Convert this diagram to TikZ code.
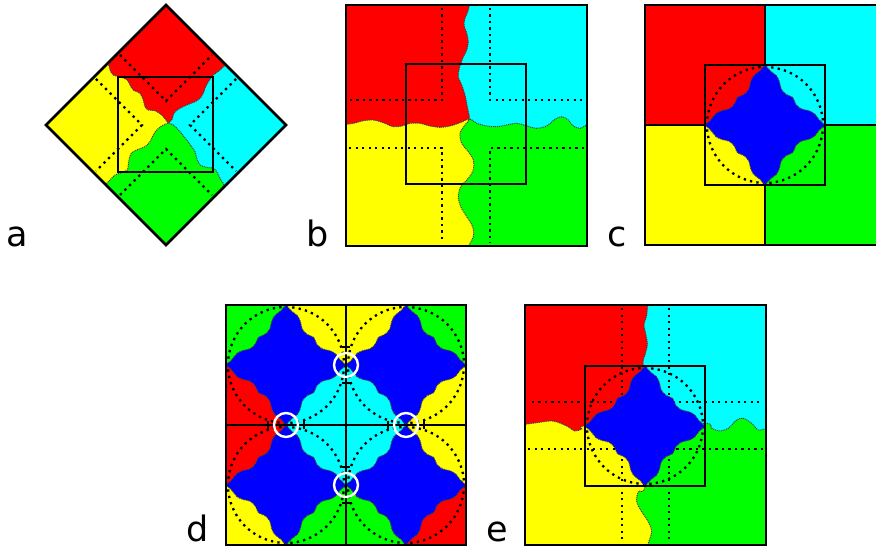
\documentclass[tikz,border=0pt]{standalone}
\usepackage{fontspec}
\setmainfont{DejaVu Sans}
\definecolor{cR}{RGB}{255,0,0}
\definecolor{cC}{RGB}{0,255,255}
\definecolor{cY}{RGB}{255,255,0}
\definecolor{cG}{RGB}{0,255,0}
\definecolor{cB}{RGB}{0,0,255}
\tikzset{
 frame/.style={line width=2.6pt, draw=black},
 dotl/.style={line width=2.3pt, dash pattern=on 2.3pt off 4.2pt, draw=black},
 bord/.style={line width=1pt, dash pattern=on 1pt off 0.9pt, draw=black!75},
 lab/.style={font=\fontsize{35}{40}\selectfont, anchor=base, inner sep=0pt, text depth=0pt},
 hole/.style={draw=white, line width=2.4pt},
 tick/.style={line width=1.6pt, draw=black}
}
\newcommand{\BlueStar}[2]{%
\begin{scope}[shift={(#1,#2)},scale=60]
\path[fill=cB, bord] plot[smooth,tension=0.55] coordinates{(0,-1)(0.09,-0.9)(0.19,-0.82)(0.24,-0.72)(0.27,-0.6)(0.35,-0.51)(0.46,-0.46)(0.51,-0.35)(0.6,-0.27)(0.72,-0.24)(0.82,-0.19)(0.9,-0.09)(1,0)}
 -- plot[smooth,tension=0.55] coordinates{(1,0)(0.9,0.09)(0.82,0.19)(0.72,0.24)(0.6,0.27)(0.51,0.35)(0.46,0.46)(0.35,0.51)(0.27,0.6)(0.24,0.72)(0.19,0.82)(0.09,0.9)(0,1)}
 -- plot[smooth,tension=0.55] coordinates{(0,1)(-0.09,0.9)(-0.19,0.82)(-0.24,0.72)(-0.27,0.6)(-0.35,0.51)(-0.46,0.46)(-0.51,0.35)(-0.6,0.27)(-0.72,0.24)(-0.82,0.19)(-0.9,0.09)(-1,0)}
 -- plot[smooth,tension=0.55] coordinates{(-1,0)(-0.9,-0.09)(-0.82,-0.19)(-0.72,-0.24)(-0.6,-0.27)(-0.51,-0.35)(-0.46,-0.46)(-0.35,-0.51)(-0.27,-0.6)(-0.24,-0.72)(-0.19,-0.82)(-0.09,-0.9)(0,-1)}
 -- cycle;
\end{scope}}
\begin{document}
\begin{tikzpicture}[x=1pt,y=-1pt]
\useasboundingbox (0,0) rectangle (876,548);
\fill[white] (0,0) rectangle (876,548);

% ---------------- panel a ----------------
\begin{scope}
\clip (166,5) -- (286,125) -- (166,245) -- (46,125) -- cycle;
\fill[cG] (40,0) rectangle (300,250);
\fill[cY] plot[smooth] coordinates {(227,63)(220,70)(213.3,75)(208.3,81.7)(205,88.3)(203.3,93.3)(200,98.3)(195,101.7)(186.7,105)(180,108.3)(175,111.7)(173.3,115)(171.7,120)(168,123)(161.7,126)(156.7,130)(153.3,135)(150,141.7)(145,146.7)(138.3,149.3)(131.7,152.7)(129.3,158.3)(128.3,165)(127.3,170)(121.7,172.7)(115,175)(110,180)(104,186)(100,190)} -- (20,125) -- (166,-20) -- cycle;
\fill[cC] plot[smooth] coordinates {(104,59)(108.3,63.3)(110,70)(113.3,75)(121.7,77.3)(127.3,80)(130,85)(133.3,90)(140,93.3)(143.3,100)(145,106.7)(148.3,110)(155,110.7)(161.7,115)(166,120)(168,123)(173.3,125)(180,131.7)(186.7,140)(191.7,146.7)(195,151.7)(196.7,158.3)(200,165)(206.7,167.3)(213.3,168.3)(216.7,171.7)(220,178.3)(225,186)(229,190)} -- (310,125) -- (166,-20) -- cycle;
\begin{scope}
\clip plot[smooth] coordinates {(104,59)(108.3,63.3)(110,70)(113.3,75)(121.7,77.3)(127.3,80)(130,85)(133.3,90)(140,93.3)(143.3,100)(145,106.7)(148.3,110)(155,110.7)(161.7,115)(166,120)(168,123)(173.3,125)(180,131.7)(186.7,140)(191.7,146.7)(195,151.7)(196.7,158.3)(200,165)(206.7,167.3)(213.3,168.3)(216.7,171.7)(220,178.3)(225,186)(229,190)} -- (310,125) -- (166,-20) -- cycle;
\fill[cR] plot[smooth] coordinates {(227,63)(220,70)(213.3,75)(208.3,81.7)(205,88.3)(203.3,93.3)(200,98.3)(195,101.7)(186.7,105)(180,108.3)(175,111.7)(173.3,115)(171.7,120)(168,123)(161.7,126)(156.7,130)(153.3,135)(150,141.7)(145,146.7)(138.3,149.3)(131.7,152.7)(129.3,158.3)(128.3,165)(127.3,170)(121.7,172.7)(115,175)(110,180)(104,186)(100,190)} -- (20,125) -- (166,-20) -- cycle;
\end{scope}
\draw[bord] plot[smooth] coordinates {(104,59)(108.3,63.3)(110,70)(113.3,75)(121.7,77.3)(127.3,80)(130,85)(133.3,90)(140,93.3)(143.3,100)(145,106.7)(148.3,110)(155,110.7)(161.7,115)(166,120)(168,123)(173.3,125)(180,131.7)(186.7,140)(191.7,146.7)(195,151.7)(196.7,158.3)(200,165)(206.7,167.3)(213.3,168.3)(216.7,171.7)(220,178.3)(225,186)(229,190)};
\draw[bord] plot[smooth] coordinates {(227,63)(220,70)(213.3,75)(208.3,81.7)(205,88.3)(203.3,93.3)(200,98.3)(195,101.7)(186.7,105)(180,108.3)(175,111.7)(173.3,115)(171.7,120)(168,123)(161.7,126)(156.7,130)(153.3,135)(150,141.7)(145,146.7)(138.3,149.3)(131.7,152.7)(129.3,158.3)(128.3,165)(127.3,170)(121.7,172.7)(115,175)(110,180)(104,186)(100,190)};
\draw[dotl] (120,55) -- (166,101) -- (212,55);
\draw[dotl] (96,79) -- (142,125) -- (96,171);
\draw[dotl] (236,79) -- (190,125) -- (236,171);
\draw[dotl] (120,195) -- (166,149) -- (212,195);
\end{scope}
\draw[frame] (118,77) rectangle (213,172);
\draw[frame, line join=miter] (166,5) -- (286,125) -- (166,245) -- (46,125) -- cycle;

% ---------------- panel b ----------------
\begin{scope}
\clip (346,5) rectangle (587,246);
\fill[cG] (340,0) rectangle (600,250);
\fill[cY] plot[smooth] coordinates {(470,0)(468.3,10)(465,18.3)(464,25)(466.7,33.3)(468.3,41.7)(466.7,50)(462.7,58.3)(459.3,68.3)(458.3,76.7)(461.7,85)(465,95)(466.7,103.3)(468.3,111.7)(469.5,119)(465,125)(460,133.3)(461.7,143.3)(468.3,151.7)(473.3,160)(473.3,170)(468.3,178.3)(460.7,186.7)(458.3,196.7)(460.7,206.7)(466.7,216.7)(472.7,226.7)(473.3,236.7)(468.3,246.7)(467,252)} -- (330,252) -- (330,0) -- cycle;
\fill[cC] plot[smooth] coordinates {(341,125)(353.3,123.3)(363.3,120.7)(373.3,120)(383.3,122.7)(393.3,126.7)(401.7,126)(410,123.3)(420,123.3)(430,126)(440,127.3)(450,126)(460,122.7)(469.5,119)(476.7,123.3)(486.7,126)(496.7,126.7)(506.7,125)(516.7,123.3)(526.7,126)(536.7,128.3)(546.7,126)(555,119.3)(561.7,116.7)(568.3,120)(573.3,126)(580,128.3)(586.7,125)(592,124)} -- (600,0) -- (340,0) -- cycle;
\begin{scope}
\clip plot[smooth] coordinates {(341,125)(353.3,123.3)(363.3,120.7)(373.3,120)(383.3,122.7)(393.3,126.7)(401.7,126)(410,123.3)(420,123.3)(430,126)(440,127.3)(450,126)(460,122.7)(469.5,119)(476.7,123.3)(486.7,126)(496.7,126.7)(506.7,125)(516.7,123.3)(526.7,126)(536.7,128.3)(546.7,126)(555,119.3)(561.7,116.7)(568.3,120)(573.3,126)(580,128.3)(586.7,125)(592,124)} -- (600,0) -- (340,0) -- cycle;
\fill[cR] plot[smooth] coordinates {(470,0)(468.3,10)(465,18.3)(464,25)(466.7,33.3)(468.3,41.7)(466.7,50)(462.7,58.3)(459.3,68.3)(458.3,76.7)(461.7,85)(465,95)(466.7,103.3)(468.3,111.7)(469.5,119)(465,125)(460,133.3)(461.7,143.3)(468.3,151.7)(473.3,160)(473.3,170)(468.3,178.3)(460.7,186.7)(458.3,196.7)(460.7,206.7)(466.7,216.7)(472.7,226.7)(473.3,236.7)(468.3,246.7)(467,252)} -- (330,252) -- (330,0) -- cycle;
\end{scope}
\draw[bord] plot[smooth] coordinates {(470,0)(468.3,10)(465,18.3)(464,25)(466.7,33.3)(468.3,41.7)(466.7,50)(462.7,58.3)(459.3,68.3)(458.3,76.7)(461.7,85)(465,95)(466.7,103.3)(468.3,111.7)(469.5,119)(465,125)(460,133.3)(461.7,143.3)(468.3,151.7)(473.3,160)(473.3,170)(468.3,178.3)(460.7,186.7)(458.3,196.7)(460.7,206.7)(466.7,216.7)(472.7,226.7)(473.3,236.7)(468.3,246.7)(467,252)};
\draw[bord] plot[smooth] coordinates {(341,125)(353.3,123.3)(363.3,120.7)(373.3,120)(383.3,122.7)(393.3,126.7)(401.7,126)(410,123.3)(420,123.3)(430,126)(440,127.3)(450,126)(460,122.7)(469.5,119)(476.7,123.3)(486.7,126)(496.7,126.7)(506.7,125)(516.7,123.3)(526.7,126)(536.7,128.3)(546.7,126)(555,119.3)(561.7,116.7)(568.3,120)(573.3,126)(580,128.3)(586.7,125)(592,124)};
\draw[dotl] (442,8) -- (442,100) -- (349,100);
\draw[dotl] (490,8) -- (490,100) -- (584,100);
\draw[dotl] (349,148) -- (442,148) -- (442,243);
\draw[dotl] (584,148) -- (490,148) -- (490,243);
\end{scope}
\draw[frame] (406,64) rectangle (526,184);
\draw[frame] (346,5) rectangle (587,246);

% ---------------- panel c ----------------
\begin{scope}
\clip (640,0) rectangle (876,250);
\fill[cR] (645,5) rectangle (765,125);
\fill[cC] (765,5) rectangle (885,125);
\fill[cY] (645,125) rectangle (765,245);
\fill[cG] (765,125) rectangle (885,245);
\draw[dotl] (765,125) circle[radius=58];
\draw[frame] (765,5) -- (765,245);
\draw[frame] (645,125) -- (885,125);
\BlueStar{765}{125}
\draw[frame] (705,65) rectangle (825,185);
\draw[frame] (645,5) rectangle (885,245);
\end{scope}

% ---------------- panel d ----------------
\fill[cG] (226,305) rectangle (286,365);
\fill[cY] (286,305) rectangle (406,365);
\fill[cG] (406,305) rectangle (466,365);
\fill[cR] (226,365) rectangle (286,485);
\fill[cC] (286,365) rectangle (406,485);
\fill[cY] (406,365) rectangle (466,485);
\fill[cY] (226,485) rectangle (286,545);
\fill[cG] (286,485) rectangle (406,545);
\fill[cR] (406,485) rectangle (466,545);
\begin{scope}
\clip (226,305) rectangle (466,545);
\draw[dotl] (286,365) circle[radius=58];
\draw[dotl] (406,365) circle[radius=58];
\draw[dotl] (286,485) circle[radius=58];
\draw[dotl] (406,485) circle[radius=58];
\BlueStar{286}{365}
\BlueStar{406}{365}
\BlueStar{286}{485}
\BlueStar{406}{485}
\end{scope}
\draw[frame] (346,305) -- (346,545);
\draw[frame] (226,425) -- (466,425);
\draw[tick] (342,347) -- (350,347);
\draw[tick] (342,383) -- (350,383);
\draw[tick] (342,467) -- (350,467);
\draw[tick] (342,503) -- (350,503);
\draw[tick] (268,421) -- (268,429);
\draw[tick] (304,421) -- (304,429);
\draw[tick] (388,421) -- (388,429);
\draw[tick] (424,421) -- (424,429);
\draw[frame] (226,305) rectangle (466,545);
\draw[hole] (346,365) circle[radius=12];
\draw[hole] (286,425) circle[radius=12];
\draw[hole] (406,425) circle[radius=12];
\draw[hole] (346,485) circle[radius=12];

% ---------------- panel e ----------------
\begin{scope}
\clip (525,305) rectangle (766,545);
\fill[cG] (520,300) rectangle (780,550);
\fill[cY] plot[smooth] coordinates {(648,300)(646.7,315)(644,325)(646,335)(647.3,345)(645,355)(643,366)(645,426)(645,486)(638.3,491.7)(636.7,501.7)(641.7,511.7)(648.3,521.7)(651.7,531.7)(648.3,543.3)(647,550)} -- (510,550) -- (510,300) -- cycle;
\fill[cC] plot[smooth] coordinates {(520,425)(536.7,422.7)(553,421)(566.7,426)(575,431)(581.7,429)(585,426)(645,426)(705,423.3)(711.7,428.3)(720,431)(728.3,428.3)(736.7,420)(743.3,418.3)(751.7,423.3)(758.3,430)(766.7,428.3)(772,427)} -- (780,290) -- (510,290) -- cycle;
\begin{scope}
\clip plot[smooth] coordinates {(520,425)(536.7,422.7)(553,421)(566.7,426)(575,431)(581.7,429)(585,426)(645,426)(705,423.3)(711.7,428.3)(720,431)(728.3,428.3)(736.7,420)(743.3,418.3)(751.7,423.3)(758.3,430)(766.7,428.3)(772,427)} -- (780,290) -- (510,290) -- cycle;
\fill[cR] plot[smooth] coordinates {(648,300)(646.7,315)(644,325)(646,335)(647.3,345)(645,355)(643,366)(645,426)(645,486)(638.3,491.7)(636.7,501.7)(641.7,511.7)(648.3,521.7)(651.7,531.7)(648.3,543.3)(647,550)} -- (510,550) -- (510,300) -- cycle;
\end{scope}
\draw[bord] plot[smooth] coordinates {(648,300)(646.7,315)(644,325)(646,335)(647.3,345)(645,355)(643,366)(645,426)(645,486)(638.3,491.7)(636.7,501.7)(641.7,511.7)(648.3,521.7)(651.7,531.7)(648.3,543.3)(647,550)};
\draw[bord] plot[smooth] coordinates {(520,425)(536.7,422.7)(553,421)(566.7,426)(575,431)(581.7,429)(585,426)(645,426)(705,423.3)(711.7,428.3)(720,431)(728.3,428.3)(736.7,420)(743.3,418.3)(751.7,423.3)(758.3,430)(766.7,428.3)(772,427)};
\draw[dotl] (622,308) -- (622,402) -- (528,402);
\draw[dotl] (669,308) -- (669,402) -- (763,402);
\draw[dotl] (528,449) -- (622,449) -- (622,542);
\draw[dotl] (763,449) -- (669,449) -- (669,542);
\draw[dotl] (645,426) circle[radius=58];
\BlueStar{645}{426}
\end{scope}
\draw[frame] (585,366) rectangle (705,486);
\draw[frame] (525,305) rectangle (766,545);

% ---------------- labels ----------------
\node[lab] (la) at (17.5,247) {a};
\node[lab] (lb) at (318,247) {b};
\node[lab] (lc) at (617,247) {c};
\node[lab] (ld) at (197.5,541) {d};
\node[lab] (le) at (497,541) {e};
\end{tikzpicture}
\end{document}
